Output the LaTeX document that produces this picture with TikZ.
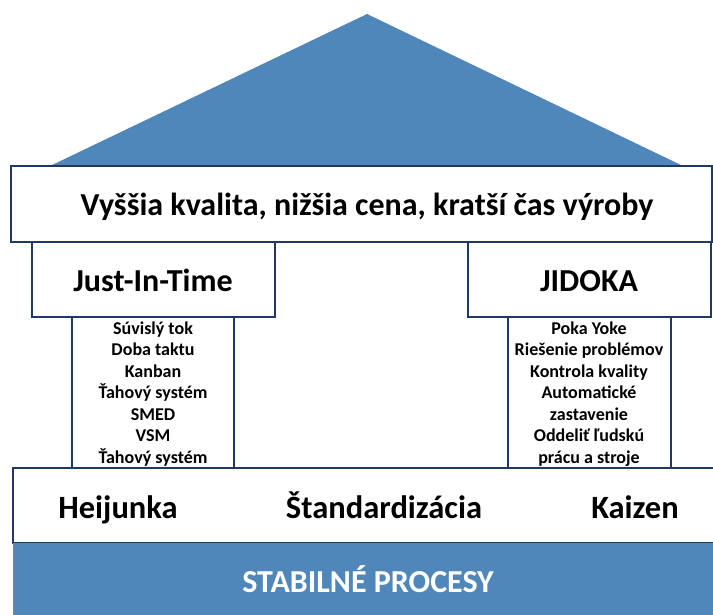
\documentclass[tikz,border=0pt]{standalone}
\usepackage{fontspec}
\setmainfont{Carlito}
\definecolor{roofblue}{RGB}{79,135,186}
\definecolor{navy}{RGB}{31,56,100}
\begin{document}
\begin{tikzpicture}[x=1pt,y=-1pt,
  boxline/.style={draw=navy,line width=1.3pt,fill=white},
  bigtxt/.style={font=\fontsize{32}{36}\selectfont\bfseries,text=black,anchor=base,inner sep=0pt},
  listtxt/.style={font=\fontsize{18}{21}\selectfont\bfseries,text=black,anchor=base,inner sep=0pt},
  basetxt/.style={font=\fontsize{32.5}{36}\selectfont\bfseries,text=black,anchor=base,inner sep=0pt}]
\useasboundingbox (0,0) rectangle (713,615);
% roof
\fill[roofblue] (50,166) -- (367,14) -- (683,166) -- cycle;
% columns
\draw[boxline] (72,317) rectangle (234,468);
\draw[boxline] (508,317) rectangle (671,468);
% top beam
\draw[boxline] (11,166) rectangle (712,242);
\node[bigtxt] (goal) at (367,216) {Vyššia kvalita, nižšia cena, kratší čas výroby};
% pillar heads
\draw[boxline] (32,242) rectangle (275,317);
\node[bigtxt] (jit) at (153,291) {Just-In-Time};
\draw[boxline] (468,242) rectangle (711,317);
\node[bigtxt] (jidoka) at (589,291) {JIDOKA};
% lists
\foreach \t [count=\i from 0] in {Súvislý tok,Doba taktu,Kanban,Ťahový systém,SMED,VSM,Ťahový systém}
  \node[listtxt] (jitl\i) at (153,{334+21.5*\i}) {\t};
\foreach \t [count=\i from 0] in {Poka Yoke,Riešenie problémov,Kontrola kvality,Automatické,zastavenie,Oddeliť ľudskú,prácu a stroje}
  \node[listtxt] (jidl\i) at (589,{334+21.5*\i}) {\t};
% base
\draw[boxline] (13,468) rectangle (714,543);
\node[basetxt] (hei) at (118,518) {Heijunka};
\node[basetxt] (std) at (384,518) {Štandardizácia};
\node[basetxt] (kai) at (635,518) {Kaizen};
\fill[roofblue] (13,543) rectangle (714,616);
\draw[navy!60,line width=0.8pt] (13,543) -- (13,616);
\node[bigtxt,text=white] (stab) at (368,592) {STABILNÉ PROCESY};
\end{tikzpicture}
\end{document}
